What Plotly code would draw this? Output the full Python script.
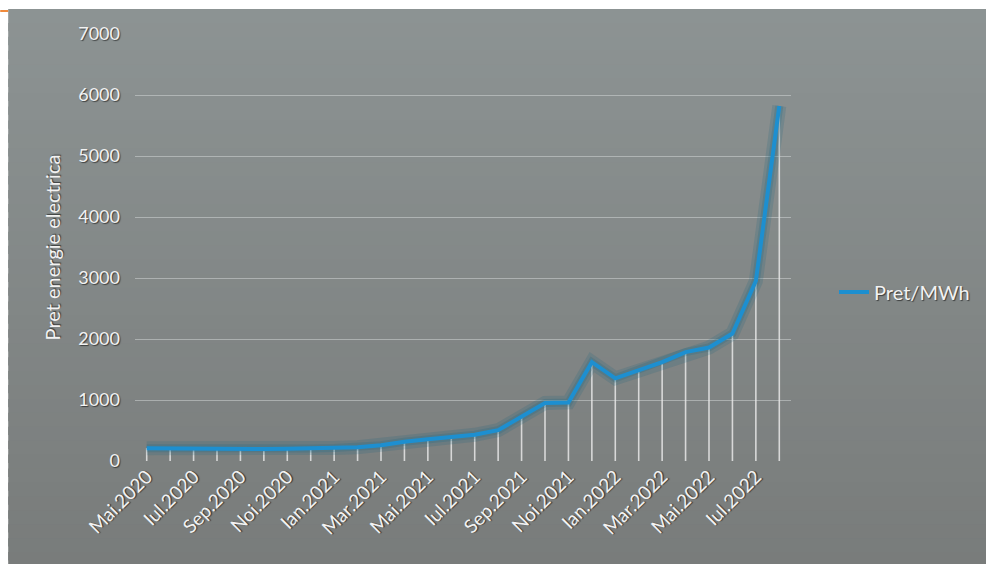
import plotly.graph_objects as go

# Monthly electricity price, May 2020 - Aug 2022
months = ["Mai.2020", "Iun.2020", "Iul.2020", "Aug.2020", "Sep.2020", "Oct.2020",
          "Noi.2020", "Dec.2020", "Ian.2021", "Feb.2021", "Mar.2021", "Apr.2021",
          "Mai.2021", "Iun.2021", "Iul.2021", "Aug.2021", "Sep.2021", "Oct.2021",
          "Noi.2021", "Dec.2021", "Ian.2022", "Feb.2022", "Mar.2022", "Apr.2022",
          "Mai.2022", "Iun.2022", "Iul.2022", "Aug.2022"]
price = [210, 205, 200, 198, 196, 196, 200, 206, 215, 225, 258, 316,
         355, 390, 430, 505, 720, 950, 960, 1620, 1355, 1490, 1620, 1785,
         1860, 2090, 2950, 5820]

series_name = "Pret/MWh"
y_title = "Pret energie electrica"
y_ticks = [0, 1000, 2000, 3000, 4000, 5000, 6000, 7000]

x = list(range(len(months)))
label_idx = x[::2]
label_txt = [months[i] for i in label_idx]

FONT = "Lato"
TXT = "#f2f2f2"
SHADOW = "1px 1px 1px rgba(0,0,0,0.55)"

fig = go.Figure()

# drop lines from each point down to the baseline
fig.add_trace(go.Scatter(
    x=x, y=price, mode="markers",
    marker=dict(size=1, color="rgba(0,0,0,0)"),
    error_y=dict(type="data", symmetric=False, array=[0] * len(price),
                 arrayminus=price, color="rgba(232,232,232,0.85)",
                 thickness=1.6, width=0),
    showlegend=False, hoverinfo="skip"))

# soft glow under the line
fig.add_trace(go.Scatter(
    x=x, y=price, mode="lines",
    line=dict(color="rgba(20,100,125,0.18)", width=14),
    showlegend=False, hoverinfo="skip"))
fig.add_trace(go.Scatter(
    x=x, y=price, mode="lines",
    line=dict(color="rgba(20,105,135,0.22)", width=8),
    showlegend=False, hoverinfo="skip"))

# main series
fig.add_trace(go.Scatter(
    x=x, y=price, mode="lines", name=series_name,
    line=dict(color="#1d8fd0", width=4)))

# background: white border strip and a gray panel with a soft vertical gradient
W, H = 986, 564
ml, mr, mt, mb = 135, 194, 34, 103
pw, ph = W - ml - mr, H - mt - mb


def px_to_paper(px, py):
    return (px - ml) / pw, (H - mb - py) / ph


shapes = []
top_col = (140, 147, 147)
bot_col = (121, 124, 123)
n_bands = 40
gx0, gy0 = px_to_paper(8, 9)
gx1, gy1 = px_to_paper(W + 2, H + 2)
for i in range(n_bands):
    t = i / (n_bands - 1)
    c = "rgb(%d,%d,%d)" % tuple(
        round(top_col[k] + (bot_col[k] - top_col[k]) * t) for k in range(3))
    ya = gy0 + (gy1 - gy0) * i / n_bands
    yb = gy0 + (gy1 - gy0) * (i + 1.6) / n_bands
    if i == n_bands - 1:
        yb = gy1
    shapes.append(dict(type="rect", xref="paper", yref="paper", layer="below",
                       x0=gx0, x1=gx1, y0=ya, y1=yb,
                       fillcolor=c, line=dict(width=0)))

# small orange mark at the top-left edge
ox0, oy0 = px_to_paper(0, 11)
ox1, _ = px_to_paper(8, 11)
shapes.append(dict(type="line", xref="paper", yref="paper", layer="above",
                   x0=ox0, x1=ox1, y0=oy0, y1=oy0,
                   line=dict(color="#f08a3c", width=2)))

lx, ly = px_to_paper(834, 292)

fig.update_layout(
    width=W, height=H,
    margin=dict(l=ml, r=mr, t=mt, b=mb),
    paper_bgcolor="white",
    plot_bgcolor="rgba(0,0,0,0)",
    shapes=shapes,
    font=dict(family=FONT, color=TXT, size=18, shadow=SHADOW),
    showlegend=True,
    legend=dict(x=lx, y=ly, xanchor="left", yanchor="middle",
                bgcolor="rgba(0,0,0,0)",
                font=dict(family=FONT, size=20, color=TXT, shadow=SHADOW)),
    xaxis=dict(range=[-0.5, len(months) - 0.5],
               tickmode="array", tickvals=label_idx, ticktext=label_txt,
               tickangle=-45, showgrid=False, zeroline=False, showline=False,
               ticks="", tickfont=dict(family=FONT, size=19, color=TXT,
                                      shadow=SHADOW)),
    yaxis=dict(range=[0, 7000], tickmode="array", tickvals=y_ticks,
               showgrid=True, gridcolor="rgba(225,228,228,0.45)", gridwidth=1,
               zeroline=False, showline=False, ticks="",
               ticklabelstandoff=14,
               tickfont=dict(family=FONT, size=18, color=TXT, shadow=SHADOW),
               title=dict(text=y_title, standoff=12,
                          font=dict(family=FONT, size=20, color=TXT,
                                    shadow=SHADOW))),
)

fig.write_html("out.html")
